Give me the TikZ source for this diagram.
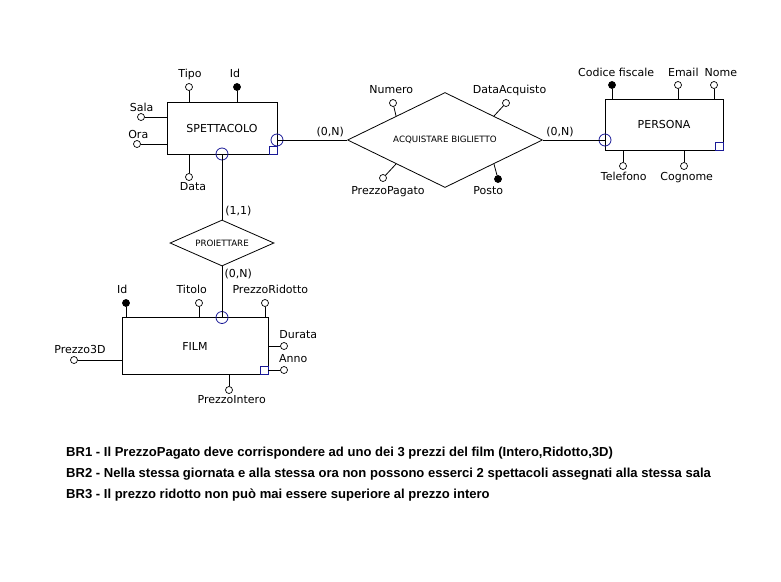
\documentclass[tikz,border=0pt]{standalone}
\usepackage{fontspec}
\setmainfont{DejaVu Sans}
\newfontfamily\brfont{Liberation Sans}
\usetikzlibrary{shapes.geometric,calc}

\definecolor{partblue}{RGB}{25,25,150}

\begin{document}
\begin{tikzpicture}[x=1pt,y=-1pt,
  ent/.style={draw, line width=0.8pt, inner sep=0pt, font=\fontsize{11}{13}\selectfont},
  rel/.style={draw, diamond, line width=0.8pt, inner sep=0pt, font=\fontsize{8.7}{10}\selectfont},
  att/.style={draw, circle, line width=0.7pt, inner sep=0pt, minimum size=7pt, fill=white},
  key/.style={att, fill=black},
  part/.style={draw=partblue, circle, line width=0.8pt, inner sep=0pt, minimum size=12pt},
  sq/.style={draw=partblue, line width=0.8pt, inner sep=0pt, minimum size=8pt},
  lbl/.style={inner sep=0pt, text height=8pt, text depth=0pt, font=\fontsize{11}{13}\selectfont},
  ln/.style={line width=0.8pt},
  br/.style={anchor=base west, inner sep=0pt, font=\brfont\bfseries\fontsize{13.05}{15}\selectfont}
]
\useasboundingbox (0,0) rectangle (781,581);

% entities and relationships
\node[ent, minimum width=110, minimum height=52] (spett) at (222,128) {SPETTACOLO};
\node[ent, minimum width=118, minimum height=51] (pers) at (664,124.5) {PERSONA};
\node[ent, minimum width=146, minimum height=57] (film) at (195,346) {FILM};
\node[rel, aspect=2.05, minimum width=195, minimum height=95] (acq) at (445,140) {ACQUISTARE BIGLIETTO};
\node[rel, aspect=2.26, minimum width=104, minimum height=46] (pro) at (222,243) {PROIETTARE};

% participation marks
\node[part] (spE) at (277,140) {};
\node[part] (spS) at (222,154) {};
\node[part] (persW) at (605,140) {};
\node[part] (filmN) at (222,317.5) {};
\node[sq, anchor=south east] (spQ) at (spett.south east) {};
\node[sq, anchor=south east] (persQ) at (pers.south east) {};
\node[sq, anchor=south east] (filmQ) at (film.south east) {};

% attributes of SPETTACOLO
\node[att] (tipo) at (189,87) {};
\node[key] (spid) at (237,87) {};
\node[att] (sala) at (141,117) {};
\node[att] (ora) at (137,144) {};
\node[att] (data) at (189,177) {};
\node[lbl] (tipoL) at (190,73.8) {Tipo};
\node[lbl] (spidL) at (235,73.8) {Id};
\node[lbl] (salaL) at (141.7,107.5) {Sala};
\node[lbl] (oraL) at (138.3,134) {Ora};
\node[lbl] (dataL) at (193,186) {Data};

% attributes of ACQUISTARE BIGLIETTO
\node[att] (numero) at (393,103) {};
\node[att] (dataacq) at (506,103) {};
\node[att] (ppag) at (383,178) {};
\node[key] (posto) at (498,179) {};
\node[lbl] (numeroL) at (391.3,89.5) {Numero};
\node[lbl] (dataacqL) at (509.5,89.5) {DataAcquisto};
\node[lbl] (ppagL) at (388,190.5) {PrezzoPagato};
\node[lbl] (postoL) at (488.3,190.5) {Posto};

% attributes of PERSONA
\node[key] (cf) at (612,85) {};
\node[att] (email) at (678,85) {};
\node[att] (nome) at (714,85) {};
\node[att] (tel) at (623,166) {};
\node[att] (cogn) at (684,166) {};
\node[lbl] (cfL) at (616.2,72) {Codice fiscale};
\node[lbl] (emailL) at (683.3,72) {Email};
\node[lbl] (nomeL) at (720.8,72) {Nome};
\node[lbl] (telL) at (623.8,176.7) {Telefono};
\node[lbl] (cognL) at (686.7,176.7) {Cognome};

% attributes of FILM
\node[key] (fid) at (126,303) {};
\node[att] (titolo) at (199,303) {};
\node[att] (prid) at (265,303) {};
\node[att] (durata) at (284,346) {};
\node[att] (anno) at (284,370) {};
\node[att] (p3d) at (74,360) {};
\node[att] (pint) at (229,390) {};
\node[lbl] (fidL) at (122.2,289.5) {Id};
\node[lbl] (titoloL) at (191.7,289.5) {Titolo};
\node[lbl] (pridL) at (270.3,289.5) {PrezzoRidotto};
\node[lbl] (durataL) at (298.3,334.5) {Durata};
\node[lbl] (annoL) at (293.3,358.3) {Anno};
\node[lbl] (p3dL) at (80,349.8) {Prezzo3D};
\node[lbl] (pintL) at (231.7,399.7) {PrezzoIntero};

% cardinalities
\node[lbl] (c1) at (330.3,131.7) {(0,N)};
\node[lbl] (c2) at (560,131.7) {(0,N)};
\node[lbl] (c3) at (238.3,210.3) {(1,1)};
\node[lbl] (c4) at (238.3,273.7) {(0,N)};

% links
\draw[ln] (spE.center) -- (acq.west);
\draw[ln] (acq.east) -- (persW.center);
\draw[ln] (spS.center) -- (pro.north);
\draw[ln] (pro.south) -- (filmN.center);
\foreach \n in {tipo,spid} \draw[ln] (\n) -- (\n |- spett.north);
\foreach \n in {sala,ora} \draw[ln] (\n) -- (\n -| spett.west);
\draw[ln] (data) -- (data |- spett.south);
\foreach \n in {cf,email,nome} \draw[ln] (\n) -- (\n |- pers.north);
\foreach \n in {tel,cogn} \draw[ln] (\n) -- (\n |- pers.south);
\foreach \n in {fid,titolo,prid} \draw[ln] (\n) -- (\n |- film.north);
\foreach \n in {durata,anno} \draw[ln] (\n) -- (\n -| film.east);
\draw[ln] (p3d) -- (p3d -| film.west);
\draw[ln] (pint) -- (pint |- film.south);
\draw[ln] (numero) -- ($(acq.west)!.5!(acq.north)$);
\draw[ln] (dataacq) -- ($(acq.north)!.5!(acq.east)$);
\draw[ln] (ppag) -- ($(acq.west)!.5!(acq.south)$);
\draw[ln] (posto) -- ($(acq.south)!.5!(acq.east)$);

% business rules
\node[br] (br1) at (66,456.6) {BR1 - Il PrezzoPagato deve corrispondere ad uno dei 3 prezzi del film (Intero,Ridotto,3D)};
\node[br] (br2) at (66,477.6) {BR2 - Nella stessa giornata e alla stessa ora non possono esserci 2 spettacoli assegnati alla stessa sala};
\node[br] (br3) at (66,498.6) {BR3 - Il prezzo ridotto non può mai essere superiore al prezzo intero};
\end{tikzpicture}
\end{document}
